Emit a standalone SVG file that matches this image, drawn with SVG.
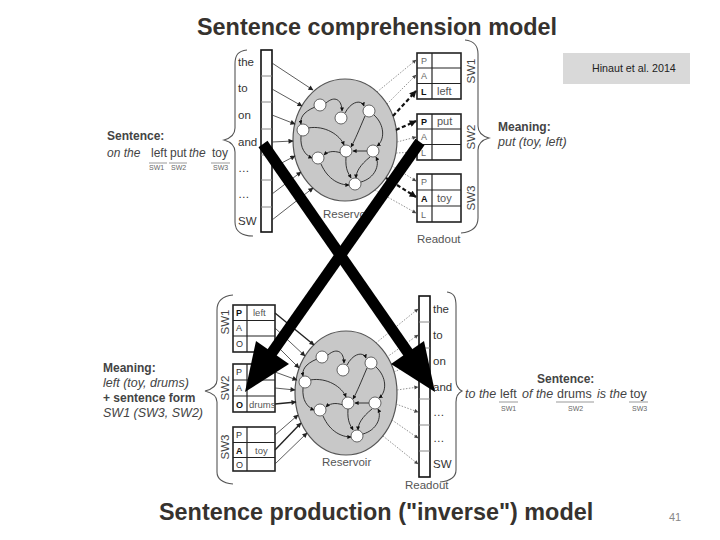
<svg xmlns="http://www.w3.org/2000/svg" width="720" height="540" viewBox="0 0 720 540">
<style>
text{font-family:"Liberation Sans",Arial,sans-serif;fill:#333}
.title{font-size:23.4px;font-weight:bold;fill:#36322e}
.w{font-size:11.5px;fill:#333}
.lbl{font-size:12px;font-weight:bold;fill:#444}
.it{font-style:italic}
.sw{font-size:7px;fill:#666}
.sent{font-size:12px;fill:#444}
.cell{font-size:9px;fill:#666}
.cellb{font-size:9px;font-weight:bold;fill:#111}
.val{font-size:11px;fill:#555}
.valb{font-size:9.5px;fill:#555}
.vert{font-size:11.5px;fill:#444}
.col{fill:#fff;stroke:#111;stroke-width:1.6}
.div{stroke:#888;stroke-width:1}
.box{fill:#fff;stroke:#222;stroke-width:1.6}
.bdiv{stroke:#222;stroke-width:1.2}
.res{fill:#c8c8c8;stroke:#555;stroke-width:1.2}
.node{fill:#fff;stroke:#444;stroke-width:0.8}
.brace{fill:none;stroke:#555;stroke-width:1.1}
.in{stroke:#333;stroke-width:0.8;fill:none;marker-end:url(#ah)}
.inb{stroke:#222;stroke-width:1.4;fill:none;marker-end:url(#ah)}
.dot{stroke:#777;stroke-width:0.8;stroke-dasharray:1.5 1.5;fill:none;marker-end:url(#ahg)}
.dash{stroke:#111;stroke-width:2.2;stroke-dasharray:4 2.5;fill:none;marker-end:url(#ahb)}
.curve{stroke:#222;stroke-width:0.9;fill:none;marker-end:url(#ahs)}
.big{stroke:#000;stroke-width:11;fill:none}
.ul{stroke:#999;stroke-width:1}
</style>
<defs>
<marker id="ah" viewBox="0 0 10 10" refX="9" refY="5" markerWidth="6" markerHeight="5" markerUnits="userSpaceOnUse" orient="auto"><path d="M0,0 L10,5 L0,10 z" fill="#222"/></marker>
<marker id="ahg" viewBox="0 0 10 10" refX="9" refY="5" markerWidth="5" markerHeight="4" markerUnits="userSpaceOnUse" orient="auto"><path d="M0,0 L10,5 L0,10 z" fill="#444"/></marker>
<marker id="ahb" viewBox="0 0 10 10" refX="9" refY="5" markerWidth="8" markerHeight="7" markerUnits="userSpaceOnUse" orient="auto"><path d="M0,0 L10,5 L0,10 z" fill="#111"/></marker>
<marker id="ahs" viewBox="0 0 10 10" refX="9" refY="5" markerWidth="4" markerHeight="4" markerUnits="userSpaceOnUse" orient="auto"><path d="M0,0 L10,5 L0,10 z" fill="#111"/></marker>
<g id="net">
<path class="curve" d="M-19,-37 C-10,-45 -3,-40 -3,-29"/>
<path class="curve" d="M0,-27 C7,-40 17,-40 19,-34"/>
<path class="curve" d="M29,-25 C40,-15 40,0 32,6"/>
<path class="curve" d="M-30,-33 C-42,-28 -45,-22 -44,-16"/>
<path class="curve" d="M-44,-4 C-45,8 -40,15 -33,18"/>
<path class="curve" d="M-24,24 C-17,40 -5,45 4,45"/>
<path class="curve" d="M-37,-12 C-20,-15 -5,-5 -1,5"/>
<path class="curve" d="M20,-24 C14,-10 10,0 6,7"/>
<path class="curve" d="M25,17 C15,25 11,32 11,38"/>
<path class="curve" d="M1,17 C0,30 4,34 6,38"/>
<path class="curve" d="M16,42 C30,38 35,25 31,17"/>
<path class="curve" d="M-4,13 C-12,10 -18,12 -21,15"/>
<path class="curve" d="M22,11 L8,11"/>
<circle class="node" cx="-25" cy="-35" r="6"/>
<circle class="node" cx="-4" cy="-22" r="6"/>
<circle class="node" cx="24" cy="-29" r="6"/>
<circle class="node" cx="-42" cy="-10" r="6"/>
<circle class="node" cx="1" cy="11" r="6"/>
<circle class="node" cx="28" cy="11" r="6"/>
<circle class="node" cx="-27" cy="18" r="6"/>
<circle class="node" cx="10" cy="44" r="6"/>
</g>
</defs>
<rect width="720" height="540" fill="#fff"/>

<text class="title" x="197" y="35">Sentence comprehension model</text>
<text class="title" x="159" y="520">Sentence production ("inverse") model</text>

<g id="citation">
<rect x="563" y="53" width="127" height="31" fill="#d9d9d9"/>
<text x="592" y="72" style="font-size:10.7px;fill:#222">Hinaut et al. 2014</text>
</g>
<text x="669" y="521" style="font-size:11px;fill:#888">41</text>

<!-- top input column -->
<g id="top-input">
<rect class="col" x="261" y="50" width="11" height="182"/>
<line class="div" x1="261" y1="76" x2="272" y2="76"/>
<line class="div" x1="261" y1="102" x2="272" y2="102"/>
<line class="div" x1="261" y1="129" x2="272" y2="129"/>
<line class="div" x1="261" y1="155" x2="272" y2="155"/>
<line class="div" x1="261" y1="180" x2="272" y2="180"/>
<line class="div" x1="261" y1="207" x2="272" y2="207"/>
<text class="w" x="238" y="66">the</text>
<text class="w" x="238" y="92">to</text>
<text class="w" x="238" y="119">on</text>
<text class="w" x="238" y="146">and</text>
<text class="w" x="238" y="172">…</text>
<text class="w" x="238" y="198">…</text>
<text class="w" x="238" y="225">SW</text>
<path class="brace" d="M247,50 C238,51 235,55 235,64 L235,128 C235,135 231,138 224,140 C231,142 235,145 235,152 L235,222 C235,232 243,236 253,236"/>
</g>

<g id="top-sentence">
<text class="lbl" x="107" y="140">Sentence:</text>
<text class="sent" y="157"><tspan x="107" class="it">on the</tspan><tspan x="151">left</tspan><tspan x="170">put</tspan><tspan x="189" class="it">the</tspan><tspan x="212">toy</tspan></text>
<line class="ul" x1="149" y1="163" x2="167" y2="163"/>
<line class="ul" x1="169" y1="163" x2="187" y2="163"/>
<line class="ul" x1="211" y1="163" x2="230" y2="163"/>
<text class="sw" x="149" y="170">SW1</text>
<text class="sw" x="171" y="170">SW2</text>
<text class="sw" x="213" y="170">SW3</text>
</g>

<g id="top-reservoir">
<ellipse class="res" cx="345" cy="140" rx="52" ry="61"/>
<use href="#net" transform="translate(345,140)"/>
<text class="w" x="323" y="218" style="fill:#555">Reservoir</text>
</g>

<g id="top-readout-sw1">
<rect class="box" x="417" y="53" width="44" height="46"/>
<line class="bdiv" x1="432" y1="53" x2="432" y2="99"/>
<line class="bdiv" x1="417" y1="68" x2="461" y2="68"/>
<line class="bdiv" x1="417" y1="83.5" x2="461" y2="83.5"/>
<text class="cell" x="421" y="64">P</text>
<text class="cell" x="421" y="79">A</text>
<text class="cellb" x="421" y="95">L</text>
<text class="val" x="437" y="95">left</text>
</g>
<g id="top-readout-sw2">
<rect class="box" x="417" y="114" width="44" height="46"/>
<line class="bdiv" x1="432" y1="114" x2="432" y2="160"/>
<line class="bdiv" x1="417" y1="129" x2="461" y2="129"/>
<line class="bdiv" x1="417" y1="144.5" x2="461" y2="144.5"/>
<text class="cellb" x="421" y="125">P</text>
<text class="cell" x="421" y="140">A</text>
<text class="cell" x="421" y="156">L</text>
<text class="val" x="437" y="125">put</text>
</g>
<g id="top-readout-sw3">
<rect class="box" x="417" y="174" width="44" height="48"/>
<line class="bdiv" x1="432" y1="174" x2="432" y2="222"/>
<line class="bdiv" x1="417" y1="190" x2="461" y2="190"/>
<line class="bdiv" x1="417" y1="206" x2="461" y2="206"/>
<text class="cell" x="421" y="185">P</text>
<text class="cellb" x="421" y="202">A</text>
<text class="cell" x="421" y="218">L</text>
<text class="val" x="437" y="202">toy</text>
</g>
<g id="top-readout-labels">
<text class="vert" transform="translate(475,71) rotate(-90)" text-anchor="middle">SW1</text>
<text class="vert" transform="translate(475,137) rotate(-90)" text-anchor="middle">SW2</text>
<text class="vert" transform="translate(475,198) rotate(-90)" text-anchor="middle">SW3</text>
<path class="brace" d="M465,40 C474,41 478,45 478,54 L478,126 C478,133 482,136 489,138 C482,140 478,143 478,150 L478,218 C478,228 472,232 461,233"/>
<text class="w" x="417" y="243" style="fill:#555">Readout</text>
<text class="lbl" x="498" y="131">Meaning:</text>
<text class="sent it" x="498" y="146" style="font-size:12.5px">put (toy, left)</text>
</g>

<!-- bottom -->
<g id="bottom-meaning">
<text class="lbl" x="103" y="372">Meaning:</text>
<text class="sent it" x="103" y="387" style="font-size:12.5px">left (toy, drums)</text>
<text class="lbl" x="103" y="402">+ sentence form</text>
<text class="sent it" x="103" y="417" style="font-size:12.5px">SW1 (SW3, SW2)</text>
</g>

<g id="bottom-input-sw1">
<rect class="box" x="233" y="305" width="42" height="47"/>
<line class="bdiv" x1="247" y1="305" x2="247" y2="352"/>
<line class="bdiv" x1="233" y1="320.5" x2="275" y2="320.5"/>
<line class="bdiv" x1="233" y1="336" x2="275" y2="336"/>
<text class="cellb" x="236" y="316">P</text>
<text class="cell" x="236" y="331" style="fill:#333">A</text>
<text class="cell" x="236" y="347" style="fill:#333">O</text>
<text class="valb" x="253" y="316">left</text>
</g>
<g id="bottom-input-sw2">
<rect class="box" x="233" y="364" width="42" height="48"/>
<line class="bdiv" x1="247" y1="364" x2="247" y2="412"/>
<line class="bdiv" x1="233" y1="380" x2="275" y2="380"/>
<line class="bdiv" x1="233" y1="396" x2="275" y2="396"/>
<text class="cell" x="236" y="375" style="fill:#333">P</text>
<text class="cell" x="236" y="391" style="fill:#333">A</text>
<text class="cellb" x="236" y="408">O</text>
<text class="valb" x="249" y="408">drums</text>
</g>
<g id="bottom-input-sw3">
<rect class="box" x="233" y="427" width="42" height="44"/>
<line class="bdiv" x1="247" y1="427" x2="247" y2="471"/>
<line class="bdiv" x1="233" y1="442.5" x2="275" y2="442.5"/>
<line class="bdiv" x1="233" y1="457.5" x2="275" y2="457.5"/>
<text class="cell" x="236" y="438" style="fill:#333">P</text>
<text class="cellb" x="236" y="454">A</text>
<text class="cell" x="236" y="468" style="fill:#333">O</text>
<text class="valb" x="255" y="454">toy</text>
</g>
<g id="bottom-input-labels">
<text class="vert" transform="translate(229,322) rotate(-90)" text-anchor="middle">SW1</text>
<text class="vert" transform="translate(229,388) rotate(-90)" text-anchor="middle">SW2</text>
<text class="vert" transform="translate(229,447) rotate(-90)" text-anchor="middle">SW3</text>
<path class="brace" d="M233,295 C223,296 217,300 217,310 L217,380 C217,386 213,389 205,391 C213,393 217,396 217,402 L217,472 C217,480 223,483 233,484"/>
</g>

<g id="bottom-reservoir">
<ellipse class="res" cx="346" cy="393" rx="51" ry="62"/>
<use href="#net" transform="translate(347,392)"/>
<text class="w" x="322" y="466" style="fill:#555">Reservoir</text>
</g>

<g id="bottom-output">
<rect class="col" x="419" y="296" width="11" height="181"/>
<line class="div" x1="419" y1="322" x2="430" y2="322"/>
<line class="div" x1="419" y1="348" x2="430" y2="348"/>
<line class="div" x1="419" y1="374" x2="430" y2="374"/>
<line class="div" x1="419" y1="399" x2="430" y2="399"/>
<line class="div" x1="419" y1="425" x2="430" y2="425"/>
<line class="div" x1="419" y1="451" x2="430" y2="451"/>
<text class="w" x="433" y="313">the</text>
<text class="w" x="433" y="339">to</text>
<text class="w" x="433" y="365">on</text>
<text class="w" x="433" y="391">and</text>
<text class="w" x="433" y="416">…</text>
<text class="w" x="433" y="442">…</text>
<text class="w" x="433" y="468">SW</text>
<path class="brace" d="M447,292 C454,293 456,297 456,306 L456,380 C456,386 458,389 462,391 C458,393 456,396 456,402 L456,470 C456,478 450,481 440,482"/>
<text class="w" x="405" y="489" style="fill:#555">Readout</text>
</g>

<g id="bottom-sentence">
<text class="lbl" x="537" y="383">Sentence:</text>
<text class="sent" y="398" style="font-size:12.5px"><tspan x="465" class="it">to the</tspan><tspan x="500">left</tspan><tspan x="522" class="it">of the</tspan><tspan x="557">drums</tspan><tspan x="597" class="it">is the</tspan><tspan x="630">toy</tspan></text>
<line class="ul" x1="499" y1="402" x2="518" y2="402"/>
<line class="ul" x1="556" y1="402" x2="594" y2="402"/>
<line class="ul" x1="629" y1="402" x2="648" y2="402"/>
<text class="sw" x="501" y="411">SW1</text>
<text class="sw" x="568" y="411">SW2</text>
<text class="sw" x="632" y="411">SW3</text>
</g>

<g id="connectors">
<line class="in" x1="272" y1="63" x2="313" y2="90"/>
<line class="in" x1="272" y1="89" x2="302" y2="106"/>
<line class="in" x1="272" y1="115" x2="295" y2="124"/>
<line class="in" x1="272" y1="142" x2="293" y2="141"/>
<line class="in" x1="272" y1="168" x2="295" y2="156"/>
<line class="in" x1="272" y1="194" x2="301" y2="172"/>
<line class="in" x1="272" y1="220" x2="313" y2="188"/>

<line class="dot" x1="377" y1="92" x2="416" y2="60"/>
<line class="dot" x1="387" y1="104" x2="416" y2="75"/>
<line class="dash" x1="393" y1="116" x2="416" y2="91"/>
<line class="dash" x1="396" y1="130" x2="416" y2="121"/>
<line class="dot" x1="397" y1="142" x2="416" y2="137"/>
<line class="dot" x1="396" y1="153" x2="416" y2="152"/>
<line class="dot" x1="392" y1="166" x2="416" y2="181"/>
<line class="dash" x1="386" y1="178" x2="416" y2="197"/>
<line class="dot" x1="375" y1="190" x2="416" y2="213"/>

<line class="inb" x1="275" y1="313" x2="314" y2="345"/>
<line class="in" x1="275" y1="328" x2="305" y2="356"/>
<line class="in" x1="275" y1="344" x2="299" y2="368"/>
<line class="in" x1="275" y1="372" x2="297" y2="380"/>
<line class="in" x1="275" y1="388" x2="295" y2="390"/>
<line class="inb" x1="275" y1="404" x2="296" y2="402"/>
<line class="in" x1="275" y1="435" x2="298" y2="415"/>
<line class="inb" x1="275" y1="450" x2="301" y2="423"/>
<line class="in" x1="275" y1="464" x2="307" y2="433"/>

<line class="dot" x1="376" y1="343" x2="418" y2="309"/>
<line class="dot" x1="387" y1="357" x2="418" y2="335"/>
<line class="dot" x1="394" y1="372" x2="418" y2="361"/>
<line class="dot" x1="397" y1="390" x2="418" y2="387"/>
<line class="dot" x1="396" y1="404" x2="418" y2="412"/>
<line class="dot" x1="392" y1="420" x2="418" y2="438"/>
<line class="dot" x1="383" y1="436" x2="418" y2="464"/>

<g id="big-x">
<line class="big" x1="263" y1="144" x2="409" y2="354"/>
<polygon points="435,392 424,341 391,364" fill="#000"/>
<line class="big" x1="420" y1="142" x2="271" y2="354"/>
<polygon points="245,392 289,364 256,341" fill="#000"/>
</g>
</g>
</svg>
